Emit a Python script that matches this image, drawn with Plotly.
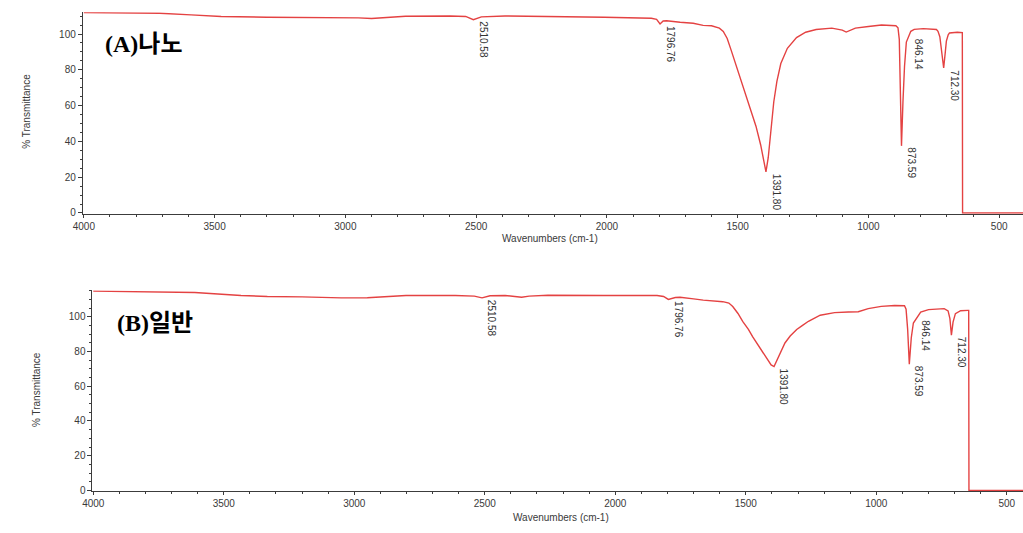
import plotly.graph_objects as go

# FT-IR spectrum (A): nano-sized sample
wn_a = [4000, 3900, 3780, 3710, 3590, 3475, 3300, 3100, 2950, 2900, 2850, 2770,
        2600, 2540, 2510.58, 2480, 2390, 2200, 2010, 1830, 1810, 1796.76, 1785,
        1772, 1745, 1720, 1670, 1632, 1600, 1570, 1555, 1540, 1525, 1506, 1481,
        1456, 1430, 1412, 1401, 1391.80, 1383, 1373, 1362, 1350, 1335, 1310,
        1275, 1240, 1200, 1140, 1100, 1085, 1065, 1050, 1000, 950, 895, 887,
        882, 878, 873.59, 868, 862, 855, 846.14, 838, 825, 790, 740, 734, 727,
        721, 712.30, 706, 702, 695, 690, 660, 641, 640, 409]
t_a = [112.0, 112.0, 112.0, 111.6, 110.7, 109.8, 109.4, 109.3, 109.0, 108.7,
       109.2, 109.9, 110.1, 109.8, 108.0, 109.6, 110.1, 109.8, 109.4, 108.8,
       108.2, 105.6, 107.3, 107.4, 106.8, 106.6, 106.0, 104.8, 104.6, 103.3,
       101.5, 97.5, 91.0, 82.5, 71.5, 60.0, 48.5, 38.0, 29.0, 23.0, 31.0, 46.0,
       62.0, 73.5, 83.5, 92.0, 98.0, 101.0, 102.5, 103.3, 102.2, 101.1, 102.2,
       103.3, 104.2, 105.0, 104.6, 103.5, 97.0, 65.0, 37.5, 62.0, 82.0, 95.5,
       98.6, 101.5, 102.6, 103.0, 102.5, 101.5, 98.5, 92.0, 81.0, 90.0, 96.0,
       99.5, 100.6, 101.0, 100.8, 0.0, 0.0]

# FT-IR spectrum (B): conventional sample
wn_b = [4000, 3800, 3611, 3434, 3333, 3200, 3050, 2950, 2870, 2802, 2613, 2540,
        2510.58, 2480, 2422, 2380, 2359, 2330, 2258, 2043, 1840, 1815, 1796.76,
        1770, 1752, 1700, 1663, 1588, 1565, 1550, 1530, 1512, 1490, 1474, 1455,
        1436, 1415, 1403, 1391.80, 1380, 1365, 1350, 1330, 1305, 1284, 1260,
        1215, 1160, 1107, 1069, 1031, 981, 930, 892, 886, 880, 873.59, 866, 858,
        846.14, 830, 800, 740, 725, 718, 712.30, 706, 697, 677, 650, 646, 645, 438]
t_b = [114.9, 114.6, 114.1, 112.4, 111.8, 111.6, 111.0, 111.1, 111.9, 112.4,
       112.4, 112.0, 111.0, 112.2, 112.4, 111.9, 111.4, 112.0, 112.5, 112.4,
       112.4, 111.8, 110.1, 111.2, 111.4, 110.4, 109.7, 108.8, 108.0, 106.0,
       102.0, 97.5, 92.8, 88.6, 84.3, 80.0, 75.0, 72.3, 71.4, 75.5, 80.5, 85.0,
       89.0, 92.8, 95.0, 97.5, 101.0, 102.5, 102.9, 103.0, 104.8, 106.1, 106.6,
       106.5, 104.5, 93.0, 72.8, 88.0, 96.5, 99.0, 102.8, 104.2, 104.8, 103.5,
       99.0, 89.5, 97.0, 101.9, 103.6, 103.8, 103.8, 0.0, 0.0]

# Labelled absorption bands (same for both spectra)
peaks = [2510.58, 1796.76, 1391.80, 873.59, 846.14, 712.30]
peak_labels = ["2510.58", "1796.76", "1391.80", "873.59", "846.14", "712.30"]

panel_titles = ["(A)나노", "(B)일반"]
x_tick_vals = [4000, 3500, 3000, 2500, 2000, 1500, 1000, 500]
y_tick_vals = [0, 20, 40, 60, 80, 100]

W, H = 1023, 533
LINE = "rgb(228,66,66)"
AXIS = "#3c3c3c"
TICKFONT = dict(family="Liberation Sans, Arial, sans-serif", size=10, color="#3a3a3a")


def px(x):
    return x / W


def py(y):
    return 1 - y / H


fig = go.Figure()
fig.add_trace(go.Scatter(x=wn_a, y=t_a, mode="lines", xaxis="x", yaxis="y",
                         line=dict(color=LINE, width=1.4), showlegend=False,
                         hoverinfo="skip"))
fig.add_trace(go.Scatter(x=wn_b, y=t_b, mode="lines", xaxis="x2", yaxis="y2",
                         line=dict(color=LINE, width=1.4), showlegend=False,
                         hoverinfo="skip"))


def xaxis_style(rng, domain, anchor):
    return dict(range=rng, domain=domain, anchor=anchor, tickvals=x_tick_vals,
                ticks="outside", ticklen=3, tickwidth=1, tickcolor=AXIS,
                showline=True, linecolor=AXIS, linewidth=1, showgrid=False,
                zeroline=False, tickfont=TICKFONT,
                minor=dict(dtick=100, ticks="outside", ticklen=2, tickcolor=AXIS,
                           showgrid=False))


def yaxis_style(rng, domain, anchor):
    return dict(range=rng, domain=domain, anchor=anchor, tickvals=y_tick_vals,
                ticks="outside", ticklen=4, tickwidth=1, tickcolor=AXIS,
                showline=True, linecolor=AXIS, linewidth=1, showgrid=False,
                zeroline=False, tickfont=TICKFONT,
                minor=dict(dtick=5, ticks="outside", ticklen=2, tickcolor=AXIS,
                           showgrid=False))


fig.update_layout(
    width=W, height=H,
    margin=dict(l=0, r=0, t=0, b=0),
    paper_bgcolor="white", plot_bgcolor="white",
    xaxis=xaxis_style([4004, 409], [px(73.5), 1.0], "y"),
    yaxis=yaxis_style([-0.4, 112.2], [py(215.7), py(12.3)], "x"),
    xaxis2=xaxis_style([4003, 438], [px(83.3), 1.0], "y2"),
    yaxis2=yaxis_style([-0.4, 115.4], [py(495.7), py(293.0)], "x2"),
)

annotations = []

# peak labels, rotated, hanging just right of each band minimum
for xref, yref, wn, tr, shift in (("x", "y", wn_a, t_a, 3), ("x2", "y2", wn_b, t_b, 2)):
    lookup = dict(zip(wn, tr))
    for p, lab in zip(peaks, peak_labels):
        annotations.append(dict(
            x=p, y=lookup[p], xref=xref, yref=yref, text=lab, showarrow=False,
            textangle=90, xanchor="left", yanchor="top", xshift=shift,
            font=dict(family="Liberation Sans, Arial, sans-serif", size=10,
                      color="#333333")))

# axis titles
title_font = dict(family="Liberation Sans, Arial, sans-serif", size=10, color="#3a3a3a")
for (tx, ty), (yx, yy) in (((545, 241), (17, 112)), ((556, 522), (27, 393))):
    annotations.append(dict(x=px(tx), y=py(ty), xref="paper", yref="paper",
                            text="Wavenumbers (cm-1)", showarrow=False,
                            xanchor="center", yanchor="middle", font=title_font))
    annotations.append(dict(x=px(yx), y=py(yy), xref="paper", yref="paper",
                            text="% Transmittance", showarrow=False, textangle=-90,
                            xanchor="center", yanchor="middle", font=title_font))

# panel captions
for title, (lx, ly) in zip(panel_titles, ((94, 44), (106, 326))):
    annotations.append(dict(x=px(lx), y=py(ly), xref="paper", yref="paper",
                            text="<b>" + title + "</b>", showarrow=False,
                            xanchor="left", yanchor="middle",
                            font=dict(family="Liberation Serif, Noto Sans CJK KR, serif",
                                      size=24, color="black")))

fig.update_layout(annotations=annotations)

fig.write_html("out.html")
